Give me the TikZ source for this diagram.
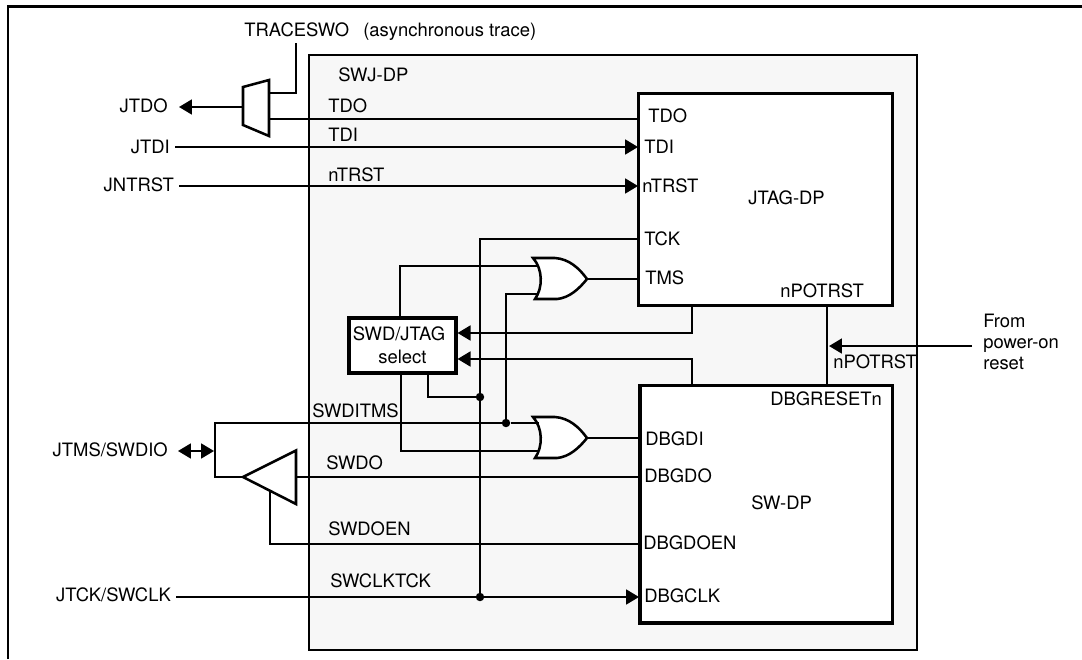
\documentclass[tikz,border=0pt]{standalone}
\usepackage{fontspec}
\setmainfont{TeX Gyre Heros}
\usetikzlibrary{calc}
\usetikzlibrary{arrows.meta}

\definecolor{swjgray}{RGB}{247,247,247}

\tikzset{
  wire/.style={line width=1.45pt},
  inwire/.style={wire, -{Triangle[length=9.2pt,width=10.6pt]}},
  bothwire/.style={wire, {Triangle[length=9.2pt,width=10.6pt]}-{Triangle[length=9.2pt,width=10.6pt]}},
  block/.style={draw, line width=2.2pt, fill=white, inner sep=0},
  sig/.style={inner sep=0, anchor=base west, font=\fontsize{13.1}{15}\selectfont},
  outsig/.style={sig, anchor=base east, inner xsep=3.5pt},
  joint/.style={fill=black, circle, inner sep=0, minimum size=6pt},
  orgate/.pic={
    \draw [line width=1.8pt, fill=white] (0,0) -- (22,0) .. controls (36,1) and (46,10) .. (54,21)
      .. controls (46,31) and (36,40) .. (24,41) -- (2,41) .. controls (10,30) and (10,11) .. (0,0) -- cycle;
    \coordinate (-in1) at (5.5,8);
    \coordinate (-in2) at (6,36);
    \coordinate (-out) at (54,21);
  }
}

\begin{document}
\begin{tikzpicture}[x=0.025cm, y=-0.025cm]
      \useasboundingbox (0,0) rectangle (1082,659);

      \draw [wire] (8,659) -- (8,6.5) -- (1082,6.5);
      \draw [wire, fill=swjgray] (309,55) rectangle (917,650);

      \node [sig] (traceswo) at (244,36) {TRACESWO};
      \node [sig] (asynctrace) at (363,36) {(asynchronous trace)};
      \node [sig] (swjdp) at (338,81) {SWJ-DP};
      \node [outsig] (jtdo) at (173,112) {JTDO};
      \node [outsig] (jtdi) at (175,153) {JTDI};
      \node [outsig] (jntrst) at (179,191) {JNTRST};
      \node [outsig] (jtmsswdio) at (173,456) {JTMS/SWDIO};
      \node [outsig] (jtckswclk) at (176,601) {JTCK/SWCLK};

      \coordinate (tracetop) at (296,43);
      \coordinate (muxtrace) at (268,93);
      \coordinate (muxtdo) at (269,119);
      \coordinate (muxout) at (243,107);
      \coordinate (jtdotip) at (179,107);
      \coordinate (tdopin) at (638,119);
      \coordinate (tdipin) at (638,147);
      \coordinate (ntrstpin) at (638,186);
      \coordinate (tckpin) at (638,239);
      \coordinate (tmspin) at (638,279);
      \coordinate (dbgdipin) at (640,438);
      \coordinate (dbgdopin) at (640,477);
      \coordinate (dbgdoenpin) at (640,544);
      \coordinate (dbgclkpin) at (639,597);
      \coordinate (jtagout) at (692,306);
      \coordinate (swout) at (692,385);
      \coordinate (jtagrst) at (827,306);
      \coordinate (swrst) at (827,386);
      \coordinate (rstsource) at (972,346);
      \coordinate (rsttip) at (829,346);
      \coordinate (selgateup) at (400,318);
      \coordinate (selgatedown) at (401,373);
      \coordinate (seltck) at (428,373);
      \coordinate (triout) at (243,477);
      \coordinate (trien) at (270,491);
      \coordinate (trifrom) at (296,477);
      \coordinate (ditmscorner) at (215,423);
      \coordinate (dualleft) at (178,451);
      \coordinate (dualright) at (214,451);
      \coordinate (ordownlow) at (539,451);

      \node [joint] (tckjoint) at (480,397) {};
      \node [joint] (clkjoint) at (480,597) {};
      \node [joint] (tmsjoint) at (506,423) {};

      \pic (orup) at (533,258) {orgate};
      \pic (ordown) at (533,417) {orgate};

      \draw [wire] (tracetop) |- (muxtrace);
      \draw [wire] (muxtdo) -- (tdopin);
      \draw [inwire] (muxout) -- (jtdotip);
      \draw [inwire] (jtdi.east |- tdipin) -- (tdipin);
      \draw [inwire] (jntrst.east |- ntrstpin) -- (ntrstpin);
      \draw [inwire] (jtckswclk.east |- dbgclkpin) -- (dbgclkpin);
      \draw [wire] (tckpin) -| (clkjoint);
      \draw [wire] (seltck) |- (tckjoint);
      \draw [wire] (trifrom) -- (dbgdopin);
      \draw [wire] (trien) |- (dbgdoenpin);
      \draw [wire] (triout) -| (ditmscorner) -- (tmsjoint);
      \draw [bothwire] (dualleft) -- (dualright);

      \draw [wire] (orup-out) -- (tmspin);
      \draw [wire] (ordown-out) -- (dbgdipin);
      \draw [wire] (selgateup) |- (orup-in1);
      \draw [wire] (tmsjoint) |- (orup-in2);
      \draw [wire] (selgatedown) |- (ordownlow);
      \draw [wire] (tmsjoint) -- (ordown-in1 |- tmsjoint);

      \draw [line width=1.8pt] (243,87) -- (269,80) -- (269,136) -- (243,125) -- cycle;
      \draw [line width=1.8pt] (243,477) -- (296,450.5) -- (296,504) -- cycle;

      \node [block, minimum width=2.675cm, minimum height=1.375cm, align=center,
             font=\fontsize{13.1}{16.3}\selectfont] (select) at (402.5,345.5) {SWD/JTAG\hspace*{5pt}\\select};

      \draw [inwire] (jtagout) |- (select.east |- 0,333);
      \draw [inwire] (swout) |- (select.east |- 0,359);
      \draw [wire] (jtagrst) -- (swrst);
      \draw [inwire] (rstsource) -- (rsttip);

      \node [block, minimum width=6.34cm, minimum height=5.3cm] (jtag) at (765.25,199.6) {};
      \node [block, minimum width=6.3cm, minimum height=5.93cm] (swdp) at (766,504.4) {};

      \node [sig] (tdowire) at (328,112) {TDO};
      \node [sig] (tdiwire) at (328,141) {TDI};
      \node [sig] (ntrstwire) at (328,181) {nTRST};
      \node [sig] (swditms) at (312,417) {SWDITMS};
      \node [sig] (swdo) at (326,469) {SWDO};
      \node [sig] (swdoen) at (328,535) {SWDOEN};
      \node [sig] (swclktck) at (330,587) {SWCLKTCK};

      \node [sig] (tdoport) at (648,122) {TDO};
      \node [sig] (tdiport) at (644,153) {TDI};
      \node [sig] (ntrstport) at (642,192) {nTRST};
      \node [sig] (jtagname) at (748,204) {JTAG-DP};
      \node [sig] (tckport) at (644,245) {TCK};
      \node [sig] (tmsport) at (645,284) {TMS};
      \node [sig] (npotrstport) at (780,297) {nPOTRST};
      \node [sig] (npotrstwire) at (833,368) {nPOTRST};
      \node [sig] (dbgreset) at (770,405) {DBGRESETn};
      \node [sig] (dbgdi) at (645,445) {DBGDI};
      \node [sig] (dbgdo) at (644,482) {DBGDO};
      \node [sig] (swname) at (751,509) {SW-DP};
      \node [sig] (dbgdoen) at (643,549) {DBGDOEN};
      \node [sig] (dbgclk) at (644,602) {DBGCLK};
      \node [sig, anchor=west, align=left, font=\fontsize{13.1}{14.9}\selectfont] (poweron) at (983,341.5) {From\\power-on\\reset};
\end{tikzpicture}
\end{document}
